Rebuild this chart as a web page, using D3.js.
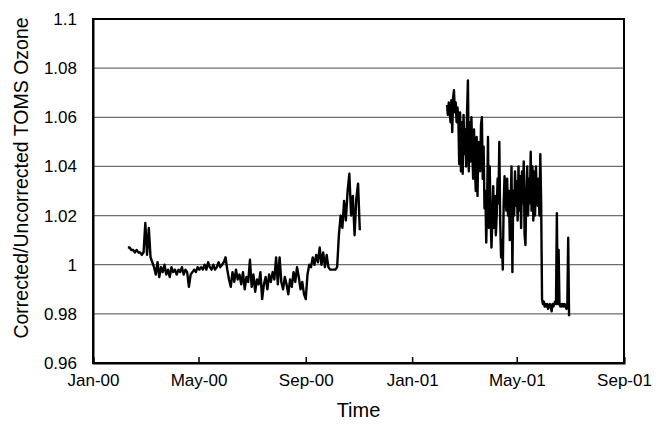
<!DOCTYPE html>
<html>
<head>
<meta charset="utf-8">
<script src="https://cdn.jsdelivr.net/npm/d3@7"></script>
<style>
  body { margin: 0; background: #fff; }
  text { font-family: "Liberation Sans", Arial, sans-serif; fill: #000; }
</style>
</head>
<body>
<script>
// ratio values
var yTicks = [0.96, 0.98, 1, 1.02, 1.04, 1.06, 1.08, 1.1];
var yLabels = ["0.96", "0.98", "1", "1.02", "1.04", "1.06", "1.08", "1.1"];

// 2000 series: one value every 2 days from 10 Feb 2000
var s1Start = [2000, 1, 10];
var s1StepDays = 2;
var s1Values = [
  1.007,1.007,1.006,1.006,1.005,1.006,1.005,1.005,1.004,1.005,
  1.017,1.004,1.015,1.003,1.001,0.999,
  0.996,1.001,0.995,0.999,0.997,1.000,0.996,0.998,0.995,0.999,0.997,0.998,
  0.996,0.998,0.997,0.999,0.996,0.998,0.997,0.991,0.996,0.997,0.998,0.997,0.999,0.998,
  0.999,0.998,1.000,0.998,1.001,0.999,0.998,1.000,0.998,0.999,1.001,0.999,1.000,1.001,1.003,
  0.998,0.994,0.991,0.997,0.993,0.998,0.994,0.996,
  0.992,0.997,0.990,0.995,0.993,1.002,0.991,0.996,0.989,0.994,0.992,0.997,
  0.986,0.992,0.995,0.990,0.996,0.993,0.997,0.994,1.003,0.992,1.003,0.993,
  0.990,0.995,0.992,0.988,0.994,0.991,0.997,0.993,0.999,0.995,0.990,0.993,0.988,0.986,
  0.996,1.000,0.999,1.003,1.000,1.004,1.001,1.007,1.000,1.005,0.999,1.004,0.999,0.998,0.998,0.998,0.998,0.999,
  1.012,1.020,1.015,1.026,1.018,1.030,1.037,1.020,1.028,1.012,1.027,1.033,1.014
];

// 2001 series: daily values from 10 Feb 2001
var s2Start = [2001, 1, 10];
var s2StepDays = 1;
var s2Values = [
  1.065,1.061,1.066,1.063,1.058,1.067,1.054,1.068,1.071,1.062,
  1.066,1.058,1.064,1.060,1.041,1.062,1.038,1.058,1.037,1.061,
  1.045,1.055,1.040,1.062,1.075,1.038,1.058,1.042,1.060,1.046,
  1.035,1.055,1.040,1.030,1.052,1.028,1.050,1.045,1.038,1.057,
  1.060,1.035,1.048,1.023,1.030,1.009,1.025,1.052,1.015,1.040,
  1.020,1.007,1.018,1.032,1.015,1.028,1.012,1.020,1.035,1.025,
  1.050,1.018,1.003,1.010,0.998,1.025,1.036,1.028,1.022,1.035,
  1.020,1.030,1.010,1.025,1.040,0.997,1.030,1.020,1.038,1.024,
  1.034,1.018,1.040,1.022,1.036,1.015,1.038,1.025,1.042,1.012,
  1.008,1.030,1.040,1.020,1.035,1.025,1.046,1.022,1.040,1.018,
  1.038,1.020,1.040,1.028,1.024,1.035,1.020,1.045,1.025,0.986,
  0.984,0.985,0.983,0.984,0.983,0.984,0.982,0.983,0.984,0.983,
  0.981,0.984,0.983,0.984,0.985,0.984,1.021,0.984,1.006,0.984,
  0.983,0.984,0.983,0.984,0.983,0.984,0.983,0.982,0.984,1.011,0.979
];

var width = 663, height = 429;
var margin = {left: 93, right: 39, top: 19, bottom: 66};

var svg = d3.select("body").append("svg")
  .attr("width", width)
  .attr("height", height);

var x = d3.scaleUtc()
  .domain([new Date(Date.UTC(2000, 0, 1)), new Date(Date.UTC(2001, 8, 1))])
  .range([margin.left, width - margin.right]);

var y = d3.scaleLinear()
  .domain([0.96, 1.1])
  .range([height - margin.bottom, margin.top]);

function toPoints(start, step, values) {
  return values.map(function(v, i) {
    return {date: new Date(Date.UTC(start[0], start[1], start[2] + i * step)), value: v};
  });
}

var series = [
  toPoints(s1Start, s1StepDays, s1Values),
  toPoints(s2Start, s2StepDays, s2Values)
];

// horizontal gridlines
svg.selectAll(".grid")
  .data(yTicks.slice(1, -1))
  .enter().append("line")
  .attr("class", "grid")
  .attr("x1", margin.left)
  .attr("x2", width - margin.right)
  .attr("y1", function(d) { return y(d); })
  .attr("y2", function(d) { return y(d); })
  .attr("stroke", "#6e6e6e")
  .attr("stroke-width", 1.2);

// data lines
var line = d3.line()
  .x(function(d) { return x(d.date); })
  .y(function(d) { return y(d.value); });

svg.selectAll(".series")
  .data(series)
  .enter().append("path")
  .attr("class", "series")
  .attr("d", line)
  .attr("fill", "none")
  .attr("stroke", "#000")
  .attr("stroke-width", 2.4)
  .attr("stroke-linejoin", "round");

// frame
svg.append("rect")
  .attr("x", margin.left)
  .attr("y", margin.top)
  .attr("width", width - margin.left - margin.right)
  .attr("height", height - margin.top - margin.bottom)
  .attr("fill", "none")
  .attr("stroke", "#000")
  .attr("stroke-width", 2);

// x axis, ticks pointing up inside the plot
var xAxis = svg.append("g")
  .attr("transform", "translate(0," + (height - margin.bottom) + ")")
  .call(d3.axisBottom(x)
    .ticks(d3.utcMonth.every(4))
    .tickFormat(d3.utcFormat("%b-%y"))
    .tickSize(-6)
    .tickPadding(11));
xAxis.select(".domain").attr("stroke-width", 2);
xAxis.selectAll(".tick line").attr("stroke-width", 1.5);
xAxis.selectAll("text")
  .style("font-family", "Liberation Sans, Arial, sans-serif")
  .style("font-size", "17px");

// y axis, labels only
var yAxis = svg.append("g")
  .attr("transform", "translate(" + margin.left + ",0)")
  .call(d3.axisLeft(y)
    .tickValues(yTicks)
    .tickFormat(function(d, i) { return yLabels[i]; })
    .tickSize(0)
    .tickPadding(16));
yAxis.select(".domain").attr("stroke-width", 2);
yAxis.selectAll("text")
  .style("font-family", "Liberation Sans, Arial, sans-serif")
  .style("font-size", "17px");

// axis titles
svg.append("text")
  .attr("x", (margin.left + width - margin.right) / 2)
  .attr("y", 417)
  .attr("text-anchor", "middle")
  .style("font-size", "20px")
  .text("Time");

svg.append("text")
  .attr("transform", "translate(28,178) rotate(-90)")
  .attr("text-anchor", "middle")
  .style("font-size", "19.5px")
  .text("Corrected/Uncorrected TOMS Ozone");
</script>
</body>
</html>
